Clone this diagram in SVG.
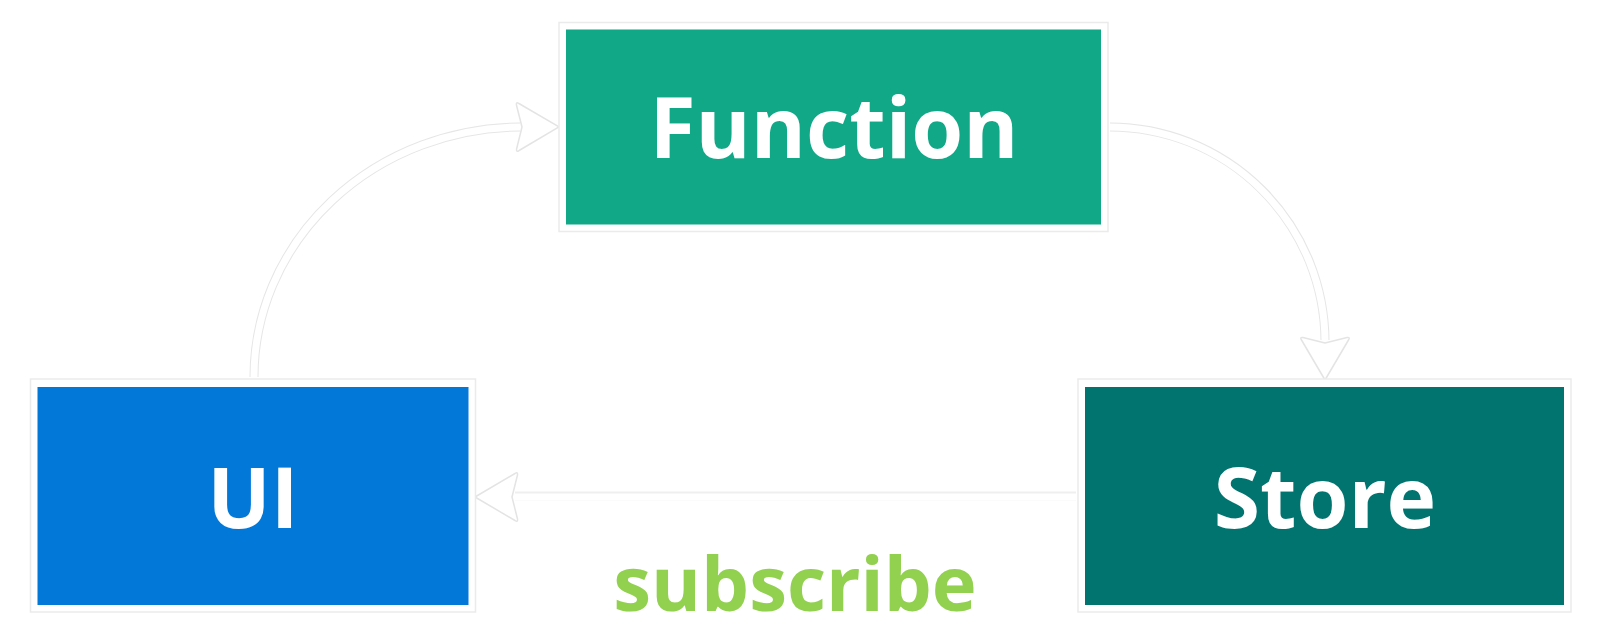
<svg xmlns="http://www.w3.org/2000/svg" width="1600" height="642" viewBox="0 0 1600 642">
<defs>
<style>
.frame{fill:#ffffff;stroke:#ebebeb;stroke-width:1.5}
.lbl{font-family:"Open Sans","Noto Sans","Liberation Sans",sans-serif;font-weight:700;text-anchor:middle;fill:#ffffff}
.edge-o{fill:none;stroke:#e6e6e6;stroke-width:9}
.edge-i{fill:none;stroke:#ffffff;stroke-width:7}
.head{fill:#ffffff;stroke:#e4e4e4;stroke-width:1.5;stroke-linejoin:round}
</style>
<marker id="arr" markerUnits="userSpaceOnUse" orient="auto" refX="0" refY="0" markerWidth="60" markerHeight="60" viewBox="-10 -30 60 60" overflow="visible">
<path class="head" d="M38,0 L-2,-23.5 Q-5,-25.5 -4.5,-22 L1,0 L-4.5,22 Q-5,25.5 -2,23.5 Z"/>
</marker>
</defs>
<rect width="1600" height="642" fill="#ffffff"/>
<g id="connectors">
<path class="edge-o" d="M254,377 A268,250 0 0 1 520,127"/>
<path class="edge-i" d="M254,378 A268,250 0 0 1 521,127" marker-end="url(#arr)"/>
<path class="edge-o" d="M1110,127 A215,215 0 0 1 1325,340"/>
<path class="edge-i" d="M1109,127 A216,215 0 0 1 1325,342" marker-end="url(#arr)"/>
<path class="edge-o" d="M1076,496 L515,496" style="stroke:#efefef"/>
<path class="edge-i" d="M1077,497 L513,497" marker-end="url(#arr)"/>
</g>
<g id="node-function">
<rect class="frame" x="559" y="22.5" width="549" height="209"/>
<rect x="566" y="29.5" width="535" height="195" fill="#10a887"/>
<text class="lbl" x="834" y="158" font-size="84">Function</text>
</g>
<g id="node-ui">
<rect class="frame" x="30.5" y="379" width="445" height="233"/>
<rect x="37.5" y="387" width="431" height="218" fill="#0278d9"/>
<text class="lbl" x="253" y="528" font-size="84">UI</text>
</g>
<g id="node-store">
<rect class="frame" x="1078" y="379" width="493" height="233"/>
<rect x="1085" y="387" width="479" height="218" fill="#017470"/>
<text class="lbl" x="1325" y="528" font-size="84">Store</text>
</g>
<g id="label-subscribe">
<text class="lbl" x="795" y="611" font-size="76" style="fill:#92d050">subscribe</text>
</g>
</svg>
